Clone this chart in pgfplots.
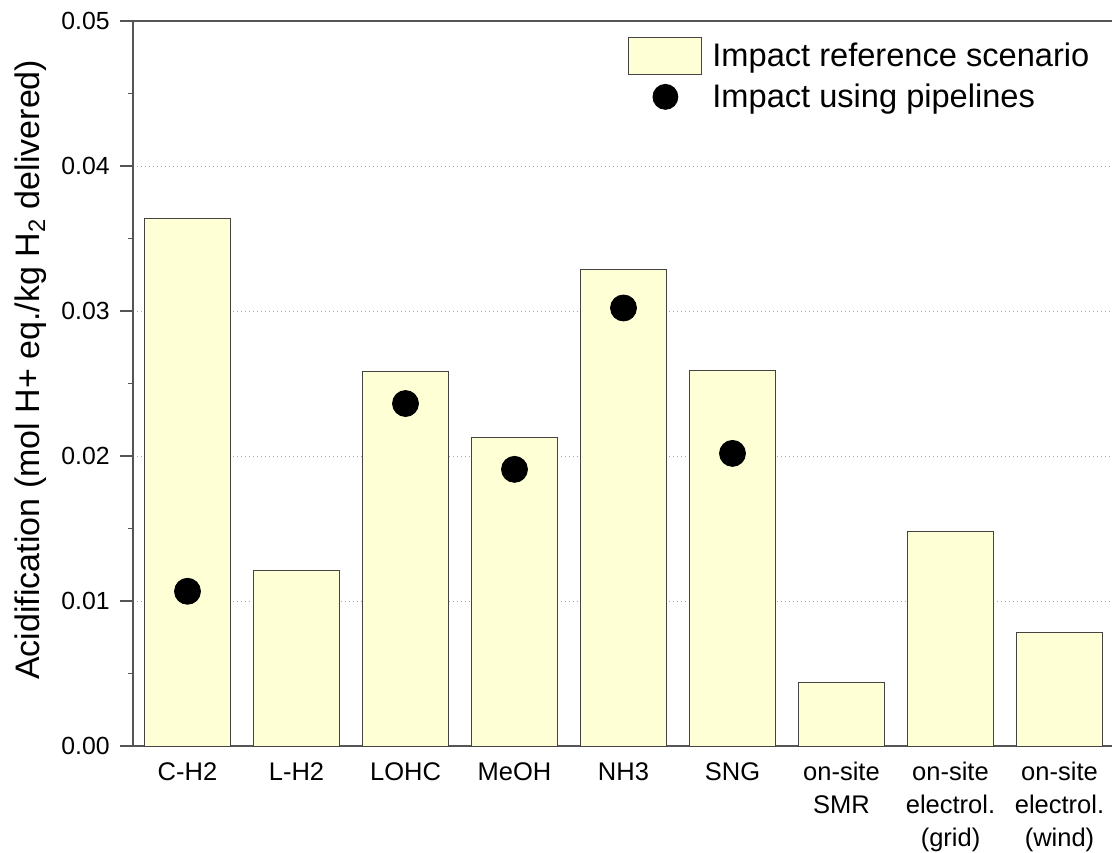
\documentclass[border=0pt]{standalone}
\usepackage{fontspec}
\setmainfont{Liberation Sans}
\usepackage{pgfplots}
\pgfplotsset{compat=1.18}
\definecolor{barfill}{HTML}{FFFFD6}
\definecolor{edgegray}{HTML}{444444}
\definecolor{axisgray}{HTML}{555555}
\definecolor{gridgray}{HTML}{A8A8A8}
\begin{document}
\begin{tikzpicture}
\begin{axis}[
  name=ax, at={(0,0)}, anchor=south west,
  scale only axis, width=490.5pt, height=362.5pt,
  xmin=-0.5, xmax=8.5, ymin=0, ymax=0.05,
  axis x line=box, axis y line=left,
  axis line style={axisgray, line width=0.6pt, -},
  xtick={0,...,8},
  xticklabels={C-H2, L-H2, LOHC, MeOH, NH3, SNG, on-site\\SMR, on-site\\electrol.\\(grid), on-site\\electrol.\\(wind)},
  xtick style={draw=none},
  xticklabel style={align=center, font=\fontsize{12.75pt}{16.5pt}\selectfont, inner sep=0pt, anchor=north, yshift=-1.5pt},
  ytick={0,0.01,0.02,0.03,0.04,0.05},
  minor y tick num=1,
  tick align=outside,
  major tick length=6.5pt, minor tick length=2.5pt,
  ytick style={axisgray, line width=0.6pt},
  scaled y ticks=false,
  yticklabel style={/pgf/number format/.cd, fixed, fixed zerofill, precision=2, assume math mode=true, /tikz/.cd, font=\fontsize{12.4pt}{15pt}\selectfont, inner sep=0pt, anchor=east, xshift=-5pt},
  ymajorgrids,
  major grid style={gridgray, line width=0.5pt, dash pattern=on 0.5pt off 1.5pt},
  every axis y label/.style={at={(rel axis cs:0,0.519)}, xshift=-46.5pt, rotate=90, anchor=base},
  ylabel={\fontsize{17pt}{20pt}\selectfont Acidification (mol H+ eq./kg H\textsubscript{2} delivered)},
  legend style={draw=none, fill=none, inner sep=0pt, at={(rel axis cs:0.5046,0.978)}, anchor=north west,
    font=\fontsize{16.3pt}{19.5pt}\selectfont, row sep=4.1pt,
    nodes={inner sep=0pt}},
  legend cell align=left,
]
% reference scenario: one bar per supply chain
\addplot[ybar, bar width=0.79, fill=barfill, draw=edgegray, line width=0.5pt,
  legend image code/.code={%
    \draw[fill=barfill, draw=edgegray, line width=0.5pt] (0pt,-9.25pt) rectangle (36.5pt,9.25pt);
    \path (41.5pt,0pt);}]
  coordinates {(0,0.03636) (1,0.01212) (2,0.02583) (3,0.02128) (4,0.03285)
               (5,0.02590) (6,0.00437) (7,0.01481) (8,0.00785)};
\addlegendentry{Impact reference scenario}
% pipeline transport variant
\addplot[only marks, mark=*, mark size=6.5pt, black,
  legend image code/.code={%
    \fill[black] (18.25pt,0pt) circle (6.25pt);
    \path (0pt,0pt) (41.5pt,0pt);}]
  coordinates {(0,0.01067) (2,0.02362) (3,0.01908) (4,0.03021) (5,0.02018)};
\addlegendentry{Impact using pipelines}
\end{axis}
\pgfresetboundingbox
\useasboundingbox (-66.5pt,-53pt) rectangle (489.5pt,373pt);
\end{tikzpicture}
\end{document}
